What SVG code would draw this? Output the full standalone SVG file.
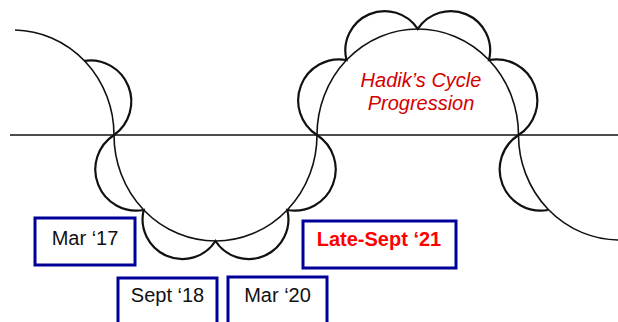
<svg xmlns="http://www.w3.org/2000/svg" width="618" height="322" viewBox="0 0 618 322">
<style>
.big{fill:none;stroke:#111;stroke-width:1.6}
.sc{fill:none;stroke:#111;stroke-width:2.2}
.axis{fill:none;stroke:#111;stroke-width:1.6}
.box{fill:#fff;stroke:#000099;stroke-width:3}
.lbl{font-family:"Liberation Sans",Arial,sans-serif;font-size:20px;fill:#111;text-anchor:middle}
.red{font-family:"Liberation Sans",Arial,sans-serif;font-size:20px;font-weight:bold;fill:#ff0000;text-anchor:middle}
.title{font-family:"Liberation Sans",Arial,sans-serif;font-size:20px;font-style:italic;fill:#d40000;text-anchor:middle}
</style>
<rect width="618" height="322" fill="#fff"/>
<g id="connectors">
<path class="axis" d="M10,135 H618"/>
<path class="big" d="M15,30 A101 105 0 0 1 114,135"/>
<path class="big" d="M114,135 A101.5 106 0 0 0 317,135"/>
<path class="big" d="M317,135 A100.75 106 0 0 1 518.5,135"/>
<path class="big" d="M518.5,135 A101 105 0 0 0 619.5,240"/>
<path class="sc" d="M84.4,60.8 A41.1 41.1 0 0 1 114,135"/>
<path class="sc" d="M114,135 A41.15 41.15 0 0 0 143.7,210 A39.67 39.67 0 0 0 215.5,241 A39.67 39.67 0 0 0 287.3,210 A41.15 41.15 0 0 0 317,135"/>
<path class="sc" d="M317,135 A41.1 41.1 0 0 1 346.5,60 A39.4 39.4 0 0 1 417.75,29 A39.4 39.4 0 0 1 489,60 A41.1 41.1 0 0 1 518.5,135"/>
<path class="sc" d="M518.5,135 A41.1 41.1 0 0 0 548,210"/>
</g>
<g id="title">
<text class="title" x="421" y="87">Hadik’s Cycle</text>
<text class="title" x="421" y="109.5">Progression</text>
</g>
<g id="mar17">
<rect class="box" x="35" y="218" width="100" height="47"/>
<text class="lbl" x="85" y="244.5">Mar ‘17</text>
</g>
<g id="sept18">
<rect class="box" x="118" y="278" width="99" height="50"/>
<text class="lbl" x="167.5" y="302">Sept ‘18</text>
</g>
<g id="mar20">
<rect class="box" x="228" y="277" width="99" height="50"/>
<text class="lbl" x="277.5" y="301.5">Mar ‘20</text>
</g>
<g id="latesept21">
<rect class="box" x="303" y="221" width="153" height="47"/>
<text class="red" x="379" y="246">Late-Sept ‘21</text>
</g>
</svg>
